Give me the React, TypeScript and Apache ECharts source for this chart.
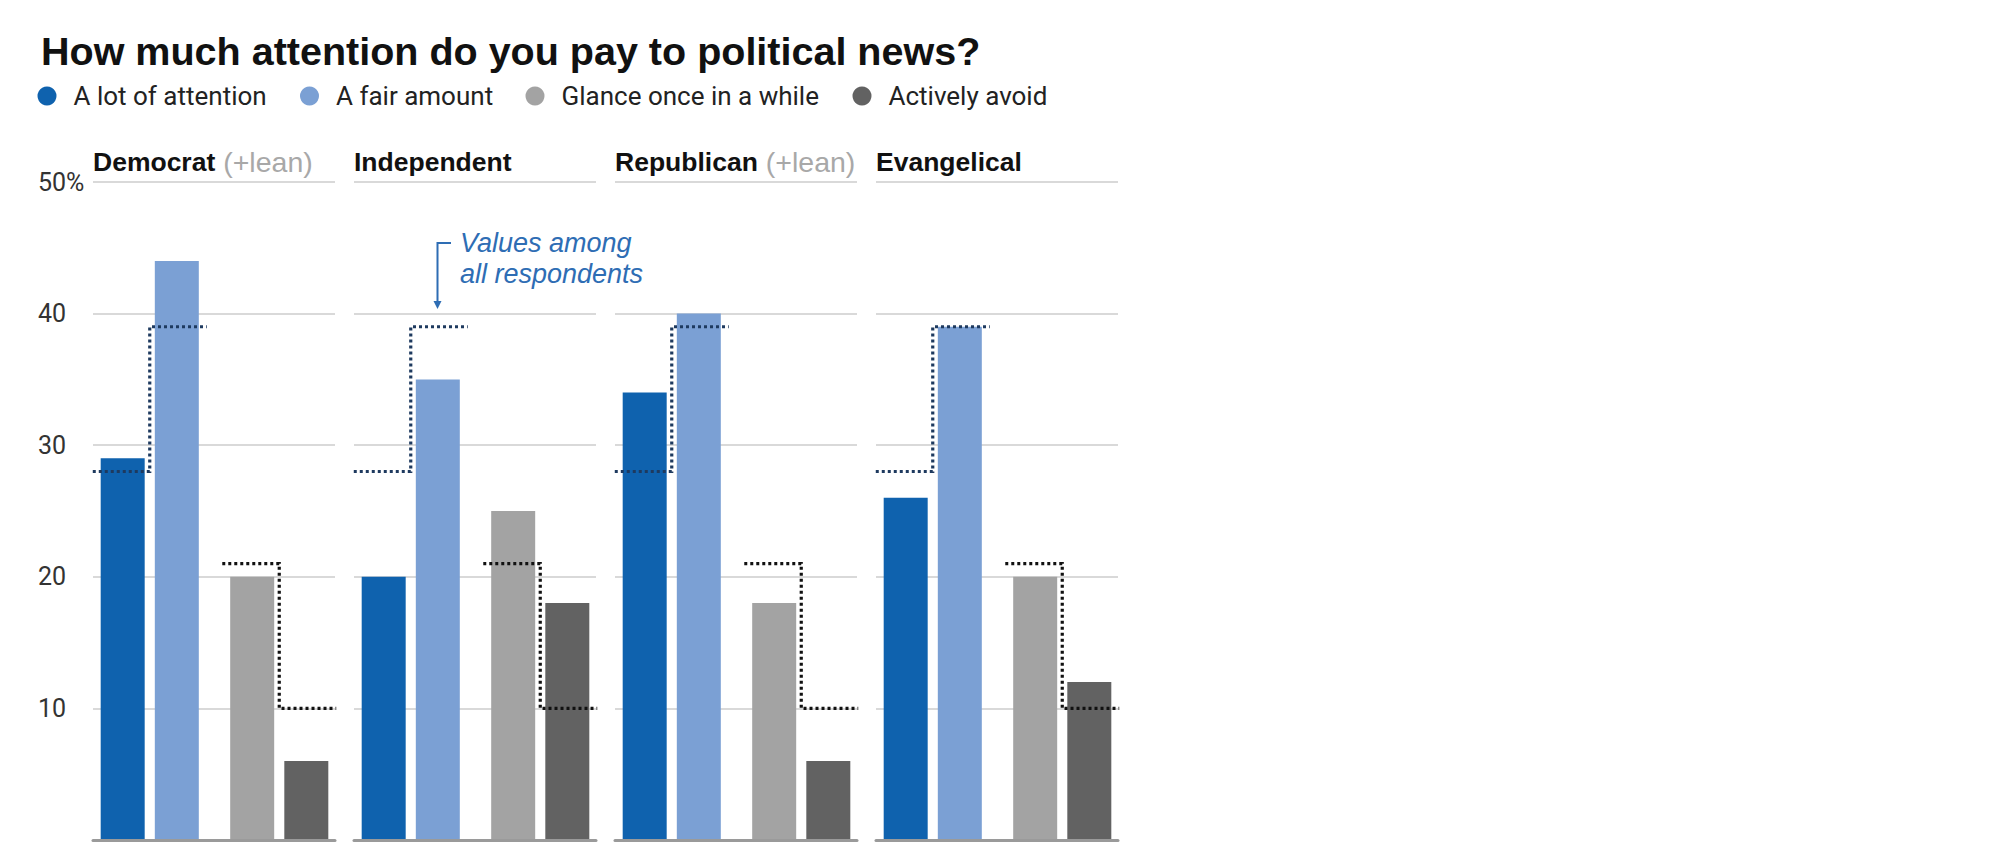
import React, { useEffect, useRef } from "react";
import * as echarts from "echarts";

// ---- data ----
const panelNames = ["Democrat", "Independent", "Republican", "Evangelical"];
const panelSuffix = ["(+lean)", "", "(+lean)", ""];
const seriesNames = ["A lot of attention", "A fair amount", "Glance once in a while", "Actively avoid"];
const seriesColors = ["#0f62ae", "#7ba0d4", "#a3a3a3", "#626262"];
const aLot = [29, 20, 34, 26];
const fairAmount = [44, 35, 40, 39];
const glance = [20, 25, 18, 20];
const avoid = [6, 18, 6, 12];
// values among all respondents: [a lot, fair amount, glance, avoid]
const allRespondents = [28, 39, 21, 10];
const groups = ["attention", "other"];
const yMax = 50;
const yStep = 10;

const FONT = 'Roboto, "Liberation Sans", Arial, sans-serif';
const FONT_ARIAL = '"Liberation Sans", Arial, sans-serif';

// ---- layout ----
const PANEL_LEFT0 = 93;
const PANEL_STEP = 261;
const PANEL_W = 242;
const GRID_TOP = 182;
const GRID_H = 658;
const BAR_OUT = 8;
const BAR_GRID_W = 259;

function buildOption() {
  const grid: any[] = [];
  const xAxis: any[] = [];
  const yAxis: any[] = [];
  const series: any[] = [];
  const title: any[] = [
    {
      text: "How much attention do you pay to political news?",
      left: 41,
      top: 29,
      padding: 0,
      textStyle: { fontFamily: FONT_ARIAL, fontSize: 39.5, fontWeight: "bold", color: "#111", lineHeight: 44 },
    },
  ];

  panelNames.forEach((name, p) => {
    const left = PANEL_LEFT0 + p * PANEL_STEP;
    // grid for gridlines / baseline
    grid.push({ left, top: GRID_TOP, width: PANEL_W, height: GRID_H });
    // grid for bars
    grid.push({ left: left - BAR_OUT, top: GRID_TOP, width: BAR_GRID_W, height: GRID_H });
    const gi = 2 * p;
    xAxis.push({
      type: "category",
      gridIndex: gi,
      data: groups,
      axisLine: { show: true, lineStyle: { color: "#9a9a9a", width: 3 } },
      axisTick: { show: false },
      axisLabel: { show: false },
      z: 5,
    });
    yAxis.push({
      type: "value",
      gridIndex: gi,
      min: 0,
      max: yMax,
      interval: yStep,
      axisLine: { show: false },
      axisTick: { show: false },
      splitLine: { show: true, lineStyle: { color: "#d9d9d9", width: 2 } },
      axisLabel: {
        show: p === 0,
        align: "left",
        margin: left - 38,
        fontFamily: FONT,
        fontSize: 25,
        color: "#333",
        padding: [10, 0, 0, 0],
        formatter: (v: number) => (v === 0 ? "" : v === yMax ? v + "%" : String(v)),
      },
    });
    xAxis.push({ type: "category", gridIndex: gi + 1, data: groups, show: false });
    yAxis.push({ type: "value", gridIndex: gi + 1, min: 0, max: yMax, interval: yStep, show: false });

    const common = { type: "bar", xAxisIndex: gi + 1, yAxisIndex: gi + 1, barWidth: 44, barGap: "23%" };
    series.push({ ...common, name: seriesNames[0], stack: "L" + p, data: [aLot[p], "-"], itemStyle: { color: seriesColors[0] } });
    series.push({ ...common, name: seriesNames[2], stack: "L" + p, data: ["-", glance[p]], itemStyle: { color: seriesColors[2] } });
    series.push({ ...common, name: seriesNames[1], stack: "R" + p, data: [fairAmount[p], "-"], itemStyle: { color: seriesColors[1] } });
    series.push({ ...common, name: seriesNames[3], stack: "R" + p, data: ["-", avoid[p]], itemStyle: { color: seriesColors[3] } });

    series.push({
      type: "custom",
      name: "all-" + p,
      xAxisIndex: gi + 1,
      yAxisIndex: gi + 1,
      z: 10,
      silent: true,
      data: [
        [0, allRespondents[0], allRespondents[1]],
        [1, allRespondents[2], allRespondents[3]],
      ],
      encode: { x: 0, y: [1, 2] },
      renderItem: (params: any, api: any) => {
        const cat = api.value(0);
        const a = api.coord([cat, api.value(1)]);
        const b = api.coord([cat, api.value(2)]);
        const band = api.size([1, 0])[0];
        const half = band * 0.44;
        const cx = a[0];
        return {
          type: "polyline",
          shape: {
            points: [
              [cx - half, a[1]],
              [cx, a[1]],
              [cx, b[1]],
              [cx + half, b[1]],
            ],
          },
          style: { stroke: cat === 0 ? "#1e3a5f" : "#111111", lineWidth: 3.2, lineDash: [3, 3], fill: null },
        };
      },
    });

    title.push({
      text: panelSuffix[p] ? `{b|${name}} {l|${panelSuffix[p]}}` : `{b|${name}}`,
      left,
      top: 147,
      padding: 0,
      textStyle: {
        rich: {
          b: { fontFamily: FONT_ARIAL, fontSize: 26.5, fontWeight: "bold", color: "#111", lineHeight: 30 },
          l: { fontFamily: FONT_ARIAL, fontSize: 28.5, fontWeight: "normal", color: "#a8a8a8", lineHeight: 30, padding: [0, 0, 0, 3] },
        },
      },
    });
  });

  const legendLefts = [37.5, 300, 525.5, 852.5];
  const legend = seriesNames.map((n, i) => ({
    data: [n],
    left: legendLefts[i],
    top: 81,
    padding: 0,
    icon: "circle",
    itemWidth: 19,
    itemHeight: 19,
    selectedMode: false,
    textStyle: { fontFamily: FONT, fontSize: 26, color: "#222", lineHeight: 30, padding: [0, 0, 0, 12] },
  }));

  const blue = "#2e6db4";
  const graphic = [
    {
      type: "text",
      left: 460,
      top: 227,
      style: {
        text: "Values among\nall respondents",
        fontFamily: FONT_ARIAL,
        fontSize: 27,
        fontStyle: "italic",
        fill: blue,
        lineHeight: 31,
      },
    },
    {
      type: "polyline",
      shape: { points: [[451, 243], [437.5, 243], [437.5, 303]] },
      style: { stroke: blue, lineWidth: 2, fill: null },
    },
    {
      type: "polygon",
      shape: { points: [[433.5, 301], [441.5, 301], [437.5, 309]] },
      style: { fill: blue },
    },
  ];

  return {
    animation: false,
    backgroundColor: "#ffffff",
    title,
    legend,
    grid,
    xAxis,
    yAxis,
    series,
    graphic,
  };
}

export default function App() {
  const ref = useRef<HTMLDivElement>(null);
  useEffect(() => {
    document.body.style.margin = "0";
    const chart = echarts.init(ref.current!, undefined, { renderer: "svg" });
    chart.setOption(buildOption() as any);
    return () => chart.dispose();
  }, []);
  return <div ref={ref} style={{ width: 2000, height: 860 }} />;
}
